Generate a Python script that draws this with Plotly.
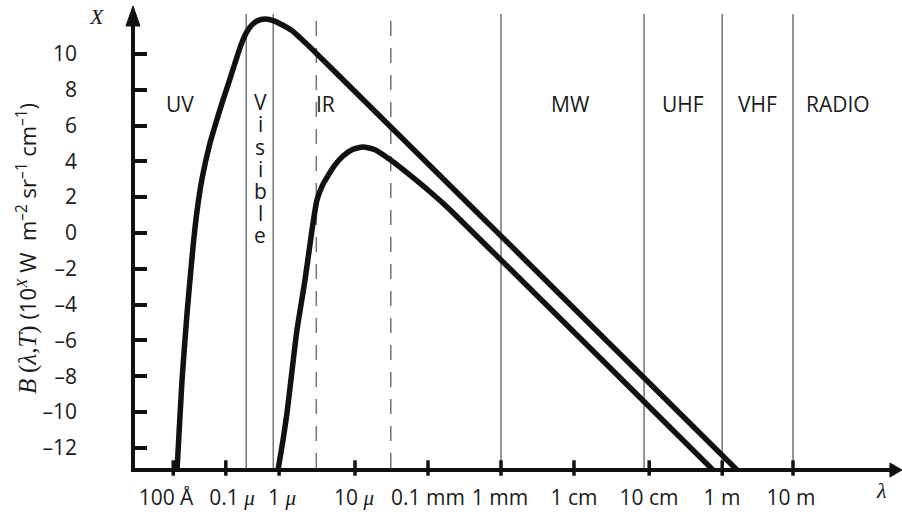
import plotly.graph_objects as go

# ---- data ----
# x coordinate: schematic log-wavelength position (decades; 10 um = -5 ... 10 m = 1)
wave_tick_pos = [-7.49, -6.77, -6.04, -5.0, -4.0, -3.0, -2.0, -0.97, 0.03, 1.0]
wave_label_pos = [-7.589, -6.685, -6.0, -5.014, -4.0, -3.014, -2.0, -0.973, 0.027, 0.973]
SERIF_MU = "<span style=\"font-family:'Liberation Serif';font-style:italic\">μ</span>"
wave_tick_text = ["100 Å", "0.1 " + SERIF_MU, "1 " + SERIF_MU, "10 " + SERIF_MU,
                  "0.1 mm", "1 mm", "1 cm", "10 cm", "1 m", "10 m"]

b_tick_vals = [-12, -10, -8, -6, -4, -2, 0, 2, 4, 6, 8, 10]
b_tick_text = ["–12", "–10", "–8", "–6", "–4", "–2", "0", "2", "4", "6", "8", "10"]

# hotter body: log B vs position
hot_u = [-7.449, -7.438, -7.370, -7.301, -7.219, -7.164, -7.096, -6.986, -6.904, -6.808,
         -6.712, -6.616, -6.548, -6.479, -6.411, -6.342, -6.233, -6.110, -5.986, -5.863,
         -5.753, -5.521, 0.233, 0.421]
hot_b = [-14.0, -13.24, -8.24, -4.49, -0.77, 1.23, 3.03, 5.03, 6.17, 7.43,
         8.62, 9.85, 10.65, 11.25, 11.62, 11.84, 11.95, 11.85, 11.6, 11.3,
         10.9, 10.0, -13.24, -14.0]

# cooler body
cool_u = [-6.086, -6.055, -5.986, -5.932, -5.863, -5.795, -5.685, -5.589, -5.521, -5.452,
          -5.384, -5.274, -5.164, -5.041, -4.890, -4.726, -4.521, -4.315, -3.973, -3.699,
          -0.096, 0.094]
cool_b = [-14.0, -13.24, -11.56, -10.06, -7.7, -5.42, -2.63, 0.17, 1.84, 2.6,
          3.1, 3.8, 4.3, 4.65, 4.8, 4.65, 4.1, 3.45, 2.3, 1.3,
          -13.24, -14.0]

# band boundaries
bound_u = [-6.49, -6.12, -5.53, -4.51, -3.0, -1.04, 0.03, 1.0]
bound_dash = ["solid", "solid", "dash", "dash", "solid", "solid", "solid", "solid"]

band_names = ["UV", "IR", "MW", "UHF", "VHF", "RADIO"]
band_u = [-7.40, -5.40, -2.05, -0.507, 0.507, 1.616]
band_y = 7.2
visible_word = "Visible"
visible_u = -6.30

X_RANGE = [-8.014, 2.370]
Y_RANGE = [-13.13, 12.23]
FONT = "Open Sans"
SERIF = "Liberation Serif"
INK = "#1a1a1a"

fig = go.Figure()

for u, d in zip(bound_u, bound_dash):
    fig.add_shape(type="line", xref="x", yref="y", x0=u, x1=u, y0=Y_RANGE[0], y1=Y_RANGE[1],
                  line=dict(color="#6f7382", width=1.5, dash="15px,12px" if d == "dash" else "solid"),
                  layer="below")

for xs, ys in ((hot_u, hot_b), (cool_u, cool_b)):
    fig.add_trace(go.Scatter(x=xs, y=ys, mode="lines",
                             line=dict(color="#111111", width=5.5, shape="spline", smoothing=0.6),
                             hoverinfo="skip", showlegend=False))

# x-axis tick marks crossing the axis line
fig.add_trace(go.Scatter(x=wave_tick_pos, y=[Y_RANGE[0]] * len(wave_tick_pos), mode="markers",
                         marker=dict(symbol="line-ns", size=11, line=dict(color="#111111", width=3.5)),
                         cliponaxis=False, hoverinfo="skip", showlegend=False))

for name, u in zip(band_names, band_u):
    fig.add_annotation(x=u, y=band_y, xref="x", yref="y", text=name, showarrow=False,
                       xanchor="center", yanchor="middle",
                       font=dict(family=FONT, size=21, color=INK))

for i, ch in enumerate(visible_word):
    fig.add_annotation(x=visible_u, y=7.3 - i * 1.236, xref="x", yref="y", text=ch, showarrow=False,
                       xanchor="center", yanchor="middle", height=22,
                       font=dict(family=FONT, size=21, color=INK))

# axis title & labels
SER = "<span style=\"font-family:'Liberation Serif';font-style:italic;font-size:25px\">"
SERU = "<span style=\"font-family:'Liberation Serif';font-size:25px\">"
ytitle = (SER + "B</span> " + SERU + "(</span>" + SER + "λ</span>" + SERU + ",</span>"
          + SER + "T</span>" + SERU + ")</span> "
          "(10<sup><span style=\"font-family:'Liberation Serif';font-style:italic\">X</span></sup> W  "
          "m<sup>–2</sup> sr<sup>–1</sup> cm<sup>–1</sup>)")
fig.add_annotation(x=-0.1425, y=0.4846, xref="paper", yref="paper", text=ytitle, textangle=-90,
                   showarrow=False, xanchor="center", yanchor="middle",
                   font=dict(family=FONT, size=22, color=INK))
fig.add_annotation(x=-0.0501, y=0.9934, xref="paper", yref="paper", text="<i>X</i>", showarrow=False,
                   xanchor="center", yanchor="middle",
                   font=dict(family=SERIF, size=22, color=INK))
fig.add_annotation(x=0.9842, y=-0.0485, xref="paper", yref="paper", text="<i>λ</i>", showarrow=False,
                   xanchor="center", yanchor="middle",
                   font=dict(family=SERIF, size=22, color=INK))

# arrowheads
fig.add_shape(type="path", xref="paper", yref="paper",
              path="M -0.00264 1.0176 L -0.01187 0.9736 L 0.0066 0.9736 Z",
              fillcolor="#111111", line=dict(color="#111111", width=1))
fig.add_shape(type="path", xref="paper", yref="paper",
              path="M 1.0119 -0.0044 L 0.9960 0.0110 L 0.9960 -0.0198 Z",
              fillcolor="#111111", line=dict(color="#111111", width=1))

fig.update_xaxes(range=X_RANGE, tickvals=wave_label_pos, ticktext=wave_tick_text, ticks="",
                 showline=True, linewidth=3.5, linecolor="#111111", showgrid=False, zeroline=False,
                 automargin=False,
                 tickfont=dict(family=FONT, size=21, color=INK), ticklabelstandoff=8)
fig.update_yaxes(range=Y_RANGE, tickvals=b_tick_vals, ticktext=b_tick_text, ticks="inside",
                 ticklen=12, tickwidth=3.5, tickcolor="#111111",
                 showline=True, linewidth=3.5, linecolor="#111111", showgrid=False, zeroline=False,
                 automargin=False,
                 tickfont=dict(family=FONT, size=21, color=INK), ticklabelstandoff=50)

fig.update_layout(width=902, height=515, margin=dict(l=135, r=9, t=14, b=47),
                  plot_bgcolor="white", paper_bgcolor="white", showlegend=False)

fig.write_html("out.html", config={"displayModeBar": False},
               post_script="document.body.style.margin='0';document.body.style.overflow='hidden';")
